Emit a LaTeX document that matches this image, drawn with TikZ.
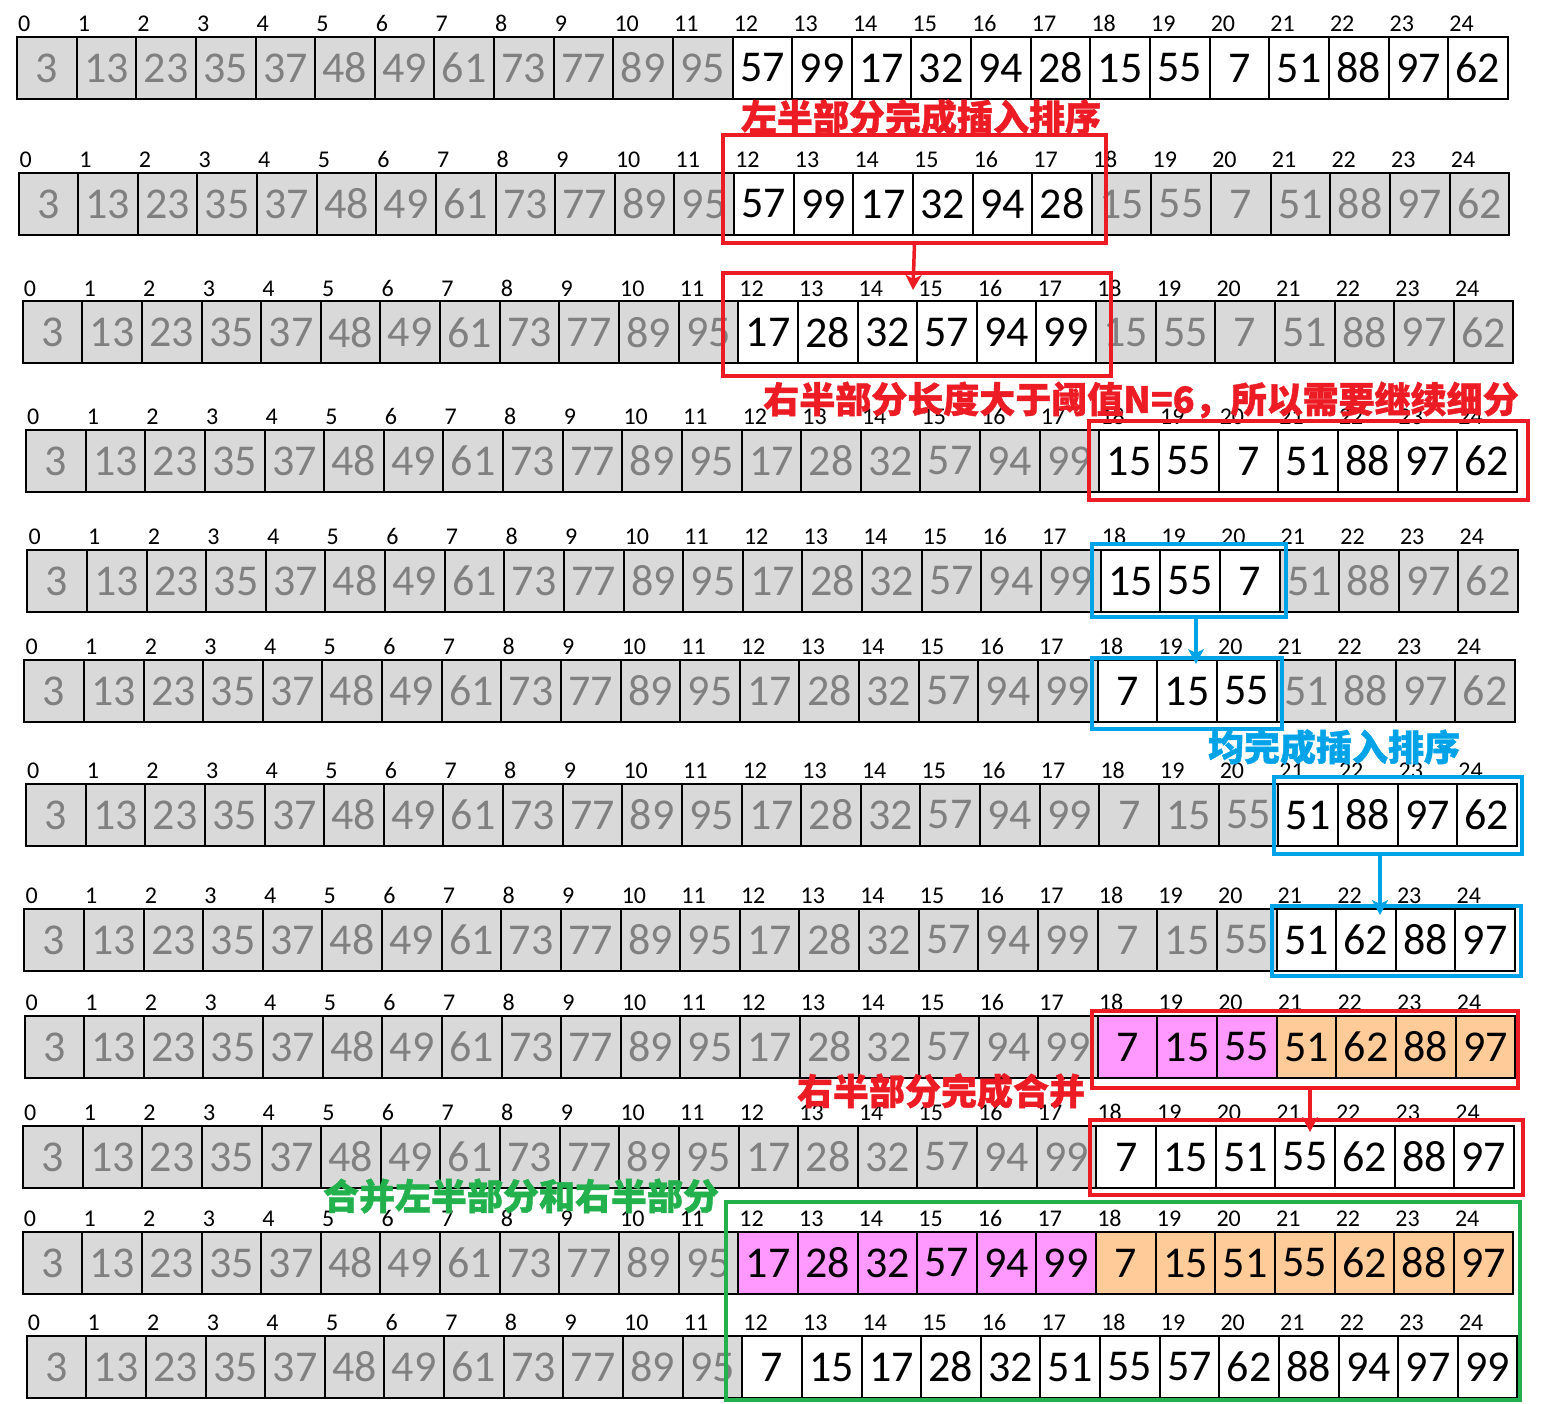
\documentclass[tikz,border=0pt]{standalone}
\usepackage{fontspec}
\setmainfont{Carlito}
\newfontfamily\cjk{Noto Sans CJK SC}[BoldFeatures={FakeBold=1.2}]
\usepackage{tikz}
\usetikzlibrary{arrows.meta, fit}

\definecolor{cellgray}{RGB}{217,217,217}
\definecolor{textgray}{RGB}{128,128,128}
\definecolor{cellpink}{RGB}{255,153,255}
\definecolor{cellorange}{RGB}{255,204,153}
\definecolor{markred}{RGB}{237,28,36}
\definecolor{markblue}{RGB}{0,162,232}
\definecolor{markgreen}{RGB}{34,177,76}

\def\cw{59.63}
\tikzset{
    cell/.style={draw, line width=2pt, minimum width=\cw pt, minimum height=62pt,
        inner sep=0, outer sep=0, anchor=north west, font=\fontsize{44}{44}\selectfont},
    gcell/.style={fill=cellgray, text=textgray},
    wcell/.style={fill=white},
    pcell/.style={fill=cellpink},
    ocell/.style={fill=cellorange},
    idx/.style={anchor=south west, inner sep=0, xshift=1pt, yshift=5pt,
        font=\fontsize{24}{24}\selectfont},
    markbox/.style={draw, line width=3.5pt, inner sep=0, outer sep=0},
    note/.style={inner sep=0, font=\cjk\bfseries\fontsize{36}{36}\selectfont},
    markarrow/.style={line width=3.5pt, -{Stealth[length=15pt,width=16pt,inset=4pt]}}
}

% one row of the array: name, x, y, values, first/last of part A, style A, last of part B, style B
\newcommand{\arrayrow}[9]{%
    \foreach \v [count=\i from 0] in {#4}{%
        \def\st{gcell}%
        \ifnum\i<#5\relax\else
            \ifnum\i>#6\relax
                \ifnum\i>#8\relax\else\def\st{#9}\fi
            \else\def\st{#7}\fi
        \fi
        \node[cell,\st] (#1-\i) at ({#2+\i*\cw},#3) {\v};
        \node[idx] (#1-l\i) at (#1-\i.north west) {\i};
    }%
}

\begin{document}
\begin{tikzpicture}[x=1pt,y=-1pt]
    \useasboundingbox (0,0) rectangle (1543,1404);

    \arrayrow{r1}{17}{37}{3,13,23,35,37,48,49,61,73,77,89,95,57,99,17,32,94,28,15,55,7,51,88,97,62}{12}{24}{wcell}{24}{wcell}
    \arrayrow{r2}{18.5}{173}{3,13,23,35,37,48,49,61,73,77,89,95,57,99,17,32,94,28,15,55,7,51,88,97,62}{12}{17}{wcell}{17}{wcell}
    \arrayrow{r3}{22.7}{301.5}{3,13,23,35,37,48,49,61,73,77,89,95,17,28,32,57,94,99,15,55,7,51,88,97,62}{12}{17}{wcell}{17}{wcell}
    \arrayrow{r4}{26}{430}{3,13,23,35,37,48,49,61,73,77,89,95,17,28,32,57,94,99,15,55,7,51,88,97,62}{18}{24}{wcell}{24}{wcell}
    \arrayrow{r5}{27.3}{550}{3,13,23,35,37,48,49,61,73,77,89,95,17,28,32,57,94,99,15,55,7,51,88,97,62}{18}{20}{wcell}{20}{wcell}
    \arrayrow{r6}{24.3}{660}{3,13,23,35,37,48,49,61,73,77,89,95,17,28,32,57,94,99,7,15,55,51,88,97,62}{18}{20}{wcell}{20}{wcell}
    \arrayrow{r7}{26}{784}{3,13,23,35,37,48,49,61,73,77,89,95,17,28,32,57,94,99,7,15,55,51,88,97,62}{21}{24}{wcell}{24}{wcell}
    \arrayrow{r8}{24.3}{909}{3,13,23,35,37,48,49,61,73,77,89,95,17,28,32,57,94,99,7,15,55,51,62,88,97}{21}{24}{wcell}{24}{wcell}
    \arrayrow{r9}{24.5}{1016}{3,13,23,35,37,48,49,61,73,77,89,95,17,28,32,57,94,99,7,15,55,51,62,88,97}{18}{20}{pcell}{24}{ocell}
    \arrayrow{r10}{23}{1126}{3,13,23,35,37,48,49,61,73,77,89,95,17,28,32,57,94,99,7,15,51,55,62,88,97}{18}{24}{wcell}{24}{wcell}
    \arrayrow{r11}{22.7}{1232}{3,13,23,35,37,48,49,61,73,77,89,95,17,28,32,57,94,99,7,15,51,55,62,88,97}{12}{17}{pcell}{24}{ocell}
    \arrayrow{r12}{26.7}{1336}{3,13,23,35,37,48,49,61,73,77,89,95,7,15,17,28,32,51,55,57,62,88,94,97,99}{12}{24}{wcell}{24}{wcell}

    % marked parts
    \node[markbox, markred, fit={(723,135) (1106,243)}] (box1) {};
    \node[markbox, markred, fit={(723,273) (1111,376)}] (box2) {};
    \node[markbox, markred, fit={(1089,421) (1528,500)}] (box3) {};
    \node[markbox, markblue, fit={(1092,544) (1286,617)}] (box4) {};
    \node[markbox, markblue, fit={(1092,658) (1282,729)}] (box5) {};
    \node[markbox, markblue, fit={(1274,777) (1522,854)}] (box6) {};
    \node[markbox, markblue, fit={(1272,906) (1521,976)}] (box7) {};
    \node[markbox, markred, fit={(1092,1011) (1518,1088)}] (box8) {};
    \node[markbox, markred, fit={(1090,1120) (1523,1195)}] (box9) {};
    \node[markbox, markgreen, fit={(726,1202) (1520,1400)}] (box10) {};

    \coordinate (tip1) at (913,290);
    \coordinate (tip2) at (1196,664);
    \coordinate (tip3) at (1380,915);
    \coordinate (tip4) at (1310,1132);
    \draw[markarrow, markred] (box1.south) -- (tip1);
    \draw[markarrow, markblue] (box4.south -| tip2) -- (tip2);
    \draw[markarrow, markblue] (box6.south -| tip3) -- (tip3);
    \draw[markarrow, markred] (box8.south -| tip4) -- (tip4);

    \node[note, markred] (note1) at (921,117) {左半部分完成插入排序};
    \node[note, markred] (note2) at (1141,400) {右半部分长度大于阈值N=6，所以需要继续细分};
    \node[note, markblue] (note3) at (1334,747) {均完成插入排序};
    \node[note, markred] (note4) at (941,1091) {右半部分完成合并};
    \node[note, markgreen] (note5) at (521,1196) {合并左半部分和右半部分};
\end{tikzpicture}
\end{document}
